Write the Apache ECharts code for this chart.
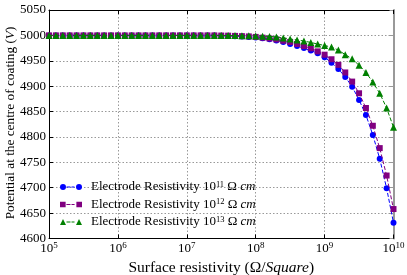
<!DOCTYPE html>
<html><head><meta charset="utf-8">
<script src="https://cdn.jsdelivr.net/npm/echarts@6/dist/echarts.min.js"></script>
<style>html,body{margin:0;padding:0;background:#fff}#c{width:407px;height:275px}</style>
</head><body><div id="c"></div>
<script>
// x positions as powers of ten (surface resistivity = 10^exponent)
const exponents = [5.0,5.1,5.2,5.3,5.4,5.5,5.6,5.7,5.8,5.9,
  6.0,6.1,6.2,6.3,6.4,6.5,6.6,6.7,6.8,6.9,
  7.0,7.1,7.2,7.3,7.4,7.5,7.6,7.7,7.8,7.9,
  8.0,8.1,8.2,8.3,8.4,8.5,8.6,8.7,8.8,8.9,
  9.0,9.1,9.2,9.3,9.4,9.5,9.6,9.7,9.8,9.9,10.0];
const values11 = [5000,5000,5000,5000,5000,5000,5000,5000,5000,5000,
  5000,5000,5000,5000,5000,5000,5000,5000,5000,5000,
  5000,5000,5000,5000,5000,4999.5,4999,4998.5,4998,4997,
  4996,4994.5,4992.5,4990,4987,4983,4979,4975,4970,4965,
  4957,4946,4934,4918,4899,4873,4843,4804,4757,4699,4631];
const values12 = [5000,5000,5000,5000,5000,5000,5000,5000,5000,5000,
  5000,5000,5000,5000,5000,5000,5000,5000,5000,5000,
  5000,5000,5000,5000,5000,4999.7,4999.5,4999,4998.5,4998,
  4997,4995.5,4994,4992,4989.5,4987,4983,4979,4974.5,4968.5,
  4962,4953,4942,4927,4909,4886,4857,4822,4778,4724,4658];
const values13 = [5000,5000,5000,5000,5000,5000,5000,5000,5000,5000,
  5000,5000,5000,5000,5000,5000,5000,5000,5000,5000,
  5000,5000,5000,5000,5000,5000,4999.8,4999.7,4999.5,4999.2,
  4999,4998.5,4998,4997,4995,4993,4991,4989,4986,4983,
  4980,4977,4971,4962,4954,4941,4927,4908,4886,4857,4819];
const legendExponents = ['11','12','13'];
const seriesNames = ['Electrode Resistivity 10^11 Ω cm','Electrode Resistivity 10^12 Ω cm','Electrode Resistivity 10^13 Ω cm'];

const FONT = 'Liberation Serif';
const chart = echarts.init(document.getElementById('c'), null, {renderer:'canvas'});
const toPairs = vals => exponents.map((e,i)=>[Math.pow(10,e), vals[i]]);

// legend icons: marker - dashes - marker (44x12 box)
const dash = ' M13,5 h8 v2 h-8 Z M23,5 h6 v2 h-6 Z';
const iconCircle = 'path://M0,6 A6,6 0 1,0 12,6 A6,6 0 1,0 0,6 Z M32,6 A6,6 0 1,0 44,6 A6,6 0 1,0 32,6 Z' + dash;
const iconSquare = 'path://M0.5,0.5 h11 v11 h-11 Z M32.5,0.5 h11 v11 h-11 Z' + dash;
const iconTri = 'path://M6,0 L12,12 L0,12 Z M38,0 L44,12 L32,12 Z' + dash;

const colors = ['#0000ff','#800080','#008000'];
function mkSeries(i, vals, symbol, size){
  return {type:'line', name: seriesNames[i], data: toPairs(vals),
    symbol: symbol, symbolSize: size, showAllSymbol: true,
    itemStyle:{color: colors[i]},
    lineStyle:{color: colors[i], width:1, type:[4,2]},
    z: 2+i, animation:false};
}

const supLabel = v => {
  const e = Math.round(Math.log10(v));
  return '{b|10}{s|' + e + '}';
};

chart.setOption({
  animation:false,
  backgroundColor:'#fff',
  grid:{left:49, right:13.5, top:10, bottom:36.5, containLabel:false, outerBoundsMode:'none'},
  graphic:[{
    type:'text', x:10.5, y:123, rotation: Math.PI/2, silent:true,
    style:{
      text:'{n|Potential at the centre of coating (}{i|V}{n|)}',
      align:'center', verticalAlign:'middle',
      rich:{
        n:{fontFamily:FONT, fontSize:13.3, fill:'#000', color:'#000'},
        i:{fontFamily:FONT, fontSize:13.3, fontStyle:'italic', fill:'#000', color:'#000'}
      }
    }
  }],
  legend:{
    orient:'vertical', left:60, top:180, padding:0, itemGap:4,
    itemWidth:22, itemHeight:6,
    data:[{name:seriesNames[0], icon:iconCircle},{name:seriesNames[1], icon:iconSquare},{name:seriesNames[2], icon:iconTri}],
    formatter: name => {
      const i = seriesNames.indexOf(name);
      return '{t|Electrode Resistivity 10}{s|' + legendExponents[i] + '}{t| Ω }{i|cm}';
    },
    textStyle:{fontFamily:FONT, color:'#000', padding:[0,0,0,4],
      rich:{
        t:{fontFamily:FONT, fontSize:13, color:'#000', lineHeight:14},
        s:{fontFamily:FONT, fontSize:8.5, color:'#000', verticalAlign:'top', lineHeight:9},
        i:{fontFamily:FONT, fontSize:13, fontStyle:'italic', color:'#000', lineHeight:14}
      }}
  },
  xAxis:[{
    type:'log', logBase:10, min:1e5, max:1e10,
    name:'{n|Surface resistivity (Ω/}{i|Square}{n|)}',
    nameLocation:'middle', nameGap:16,
    nameTextStyle:{rich:{
      n:{fontFamily:FONT, fontSize:15.5, color:'#000'},
      i:{fontFamily:FONT, fontSize:15.5, fontStyle:'italic', color:'#000'}}},
    axisLine:{show:true, lineStyle:{color:'#000', width:1}},
    axisTick:{show:true, inside:true, length:4, lineStyle:{color:'#000'}},
    axisLabel:{margin:3, formatter: supLabel, rich:{
      b:{fontFamily:FONT, fontSize:13, color:'#000', lineHeight:14},
      s:{fontFamily:FONT, fontSize:9, color:'#000', verticalAlign:'top', lineHeight:9}}},
    splitLine:{show:true, lineStyle:{color:'#999999', type:[1.5,2], width:1}}
  },{
    type:'log', logBase:10, min:1e5, max:1e10, position:'top',
    axisLine:{show:true, lineStyle:{color:'#000', width:1}},
    axisTick:{show:true, inside:true, length:4, lineStyle:{color:'#000'}},
    axisLabel:{show:false}, splitLine:{show:false}
  }],
  yAxis:[{
    type:'value', min:4600, max:5050, interval:50,
    axisLine:{show:true, lineStyle:{color:'#000', width:1}},
    axisTick:{show:true, inside:true, length:4, lineStyle:{color:'#000'}},
    axisLabel:{margin:3, fontFamily:FONT, fontSize:13, color:'#000', formatter: v => String(v)},
    splitLine:{show:true, lineStyle:{color:'#999999', type:[1.5,2], width:1}}
  },{
    type:'value', min:4600, max:5050, interval:50, position:'right',
    axisLine:{show:true, lineStyle:{color:'#999', width:2}},
    axisTick:{show:true, inside:true, length:4, lineStyle:{color:'#999'}},
    axisLabel:{show:false}, splitLine:{show:false}
  }],
  series:[
    mkSeries(0, values11, 'circle', 6),
    mkSeries(1, values12, 'rect', 6),
    mkSeries(2, values13, 'triangle', 7)
  ]
});
</script></body></html>
